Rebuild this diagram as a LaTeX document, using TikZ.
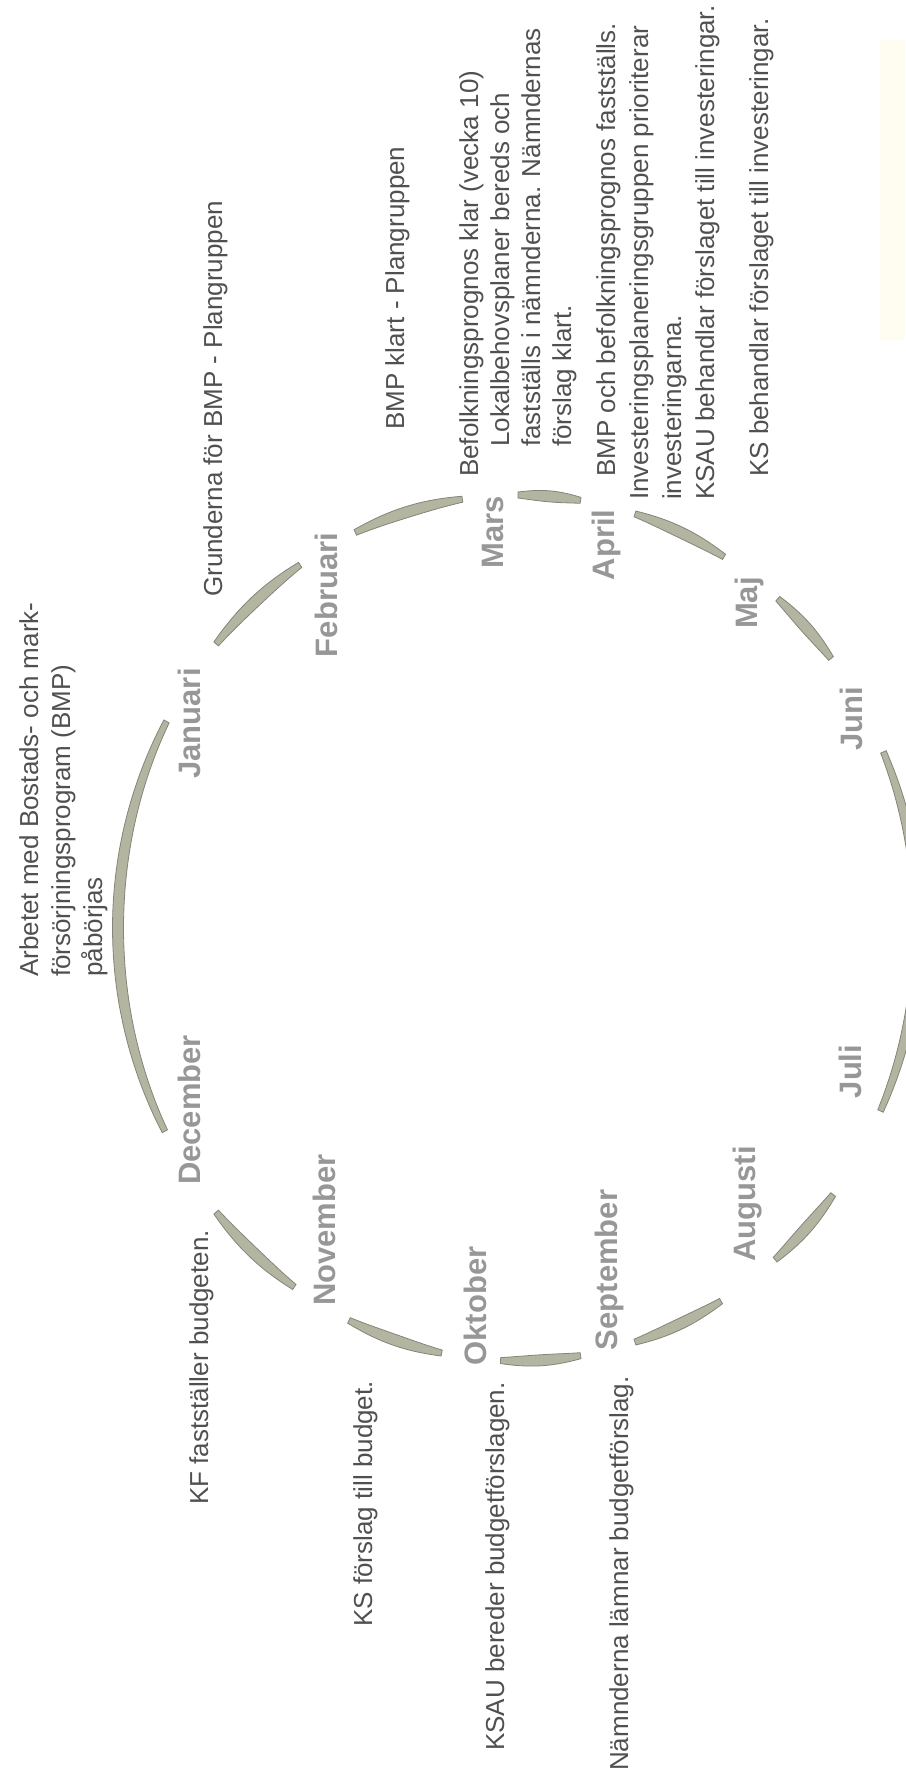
\documentclass[tikz,border=0pt]{standalone}
\usepackage{fontspec}
\setmainfont{Liberation Sans}
\definecolor{arcfill}{HTML}{B3B5A0}
\definecolor{arcline}{HTML}{83857A}
\definecolor{monthgray}{HTML}{979797}
\definecolor{notegray}{HTML}{505050}
\definecolor{hilite}{HTML}{FFFDF2}
\tikzset{
  month/.style={rotate=90,anchor=base,inner sep=0pt,font=\fontsize{31}{37}\selectfont\bfseries,text=monthgray},
  note/.style={rotate=90,inner sep=0pt,align=left,font=\fontsize{26}{32}\selectfont,text=notegray},
  arcband/.style={fill=arcfill,draw=arcline,line width=0.8pt}
}
\begin{document}
\begin{tikzpicture}[x=1pt,y=-1pt,declare function={bandw(\t,\s,\e)=3+2.5*sin(180*(\t-\s)/(\e-\s));}]
  \useasboundingbox (0,0) rectangle (905,1776);
  \fill[hilite] (880,40) rectangle (905,340);

  % year cycle, angles on the ellipse
  \foreach \a/\b in {152/208.5,221/237,246/262,270/279,287/301,310.5/321.5,336/385,38/50,59.5/73,81/92.5,101/115,124/139}{
    \filldraw[arcband] plot[domain=\a:\b,samples=30,smooth,variable=\t]
        ({518+(400+bandw(\t,\a,\b))*cos(\t)},{928+(433+bandw(\t,\a,\b))*sin(\t)})
      -- plot[domain=\b:\a,samples=30,smooth,variable=\t]
        ({518+(400-bandw(\t,\a,\b))*cos(\t)},{928+(433-bandw(\t,\a,\b))*sin(\t)})
      -- cycle;
  }

  % months
  \node[month] (jan) at (200,723.5) {Januari};
  \node[month] (feb) at (337,595) {Februari};
  \node[month] (mar) at (503,532) {Mars};
  \node[month] (apr) at (614,545) {April};
  \node[month] (maj) at (757,603) {Maj};
  \node[month] (jun) at (862,718.5) {Juni};
  \node[month] (jul) at (861,1071.5) {Juli};
  \node[month] (aug) at (755,1204) {Augusti};
  \node[month] (sep) at (617,1270) {September};
  \node[month] (okt) at (486,1306) {Oktober};
  \node[month] (nov) at (335,1230) {November};
  \node[month] (dec) at (200,1110) {December};

  % activities
  \node[note,anchor=north west] (bmpstart) at (19,977) {Arbetet med Bostads- och mark-\\försörjningsprogram (BMP)\\påbörjas};
  \node[note,anchor=base west] (grund) at (222,597) {Grunderna för BMP - Plangruppen};
  \node[note,anchor=base west] (bmpklart) at (404,430) {BMP klart - Plangruppen};
  \node[note,anchor=north west,font=\fontsize{26}{31}\selectfont] (prognos) at (459,477)
    {Befolkningsprognos klar (vecka 10)\\\hspace*{30pt}Lokalbehovsplaner bereds och\\\hspace*{30pt}fastställs i nämnderna. Nämndernas\\\hspace*{30pt}förslag klart.};
  \node[note,anchor=north west,font=\fontsize{26}{33}\selectfont] (invest) at (596,500)
    {\hspace*{23pt}BMP och befolkningsprognos fastställs.\\Investeringsplaneringsgruppen prioriterar\\investeringarna.\\KSAU behandlar förslaget till investeringar.\\[21pt]\hspace*{23pt}KS behandlar förslaget till investeringar.};
  \node[note,anchor=base west] (kf) at (208,1505) {KF fastställer budgeten.};
  \node[note,anchor=base west] (ksprop) at (372,1627) {KS förslag till budget.};
  \node[note,anchor=base west] (ksau) at (504,1751) {KSAU bereder budgetförslagen.};
  \node[note,anchor=base west] (namnd) at (628,1771) {Nämnderna lämnar budgetförslag.};
\end{tikzpicture}
\end{document}
